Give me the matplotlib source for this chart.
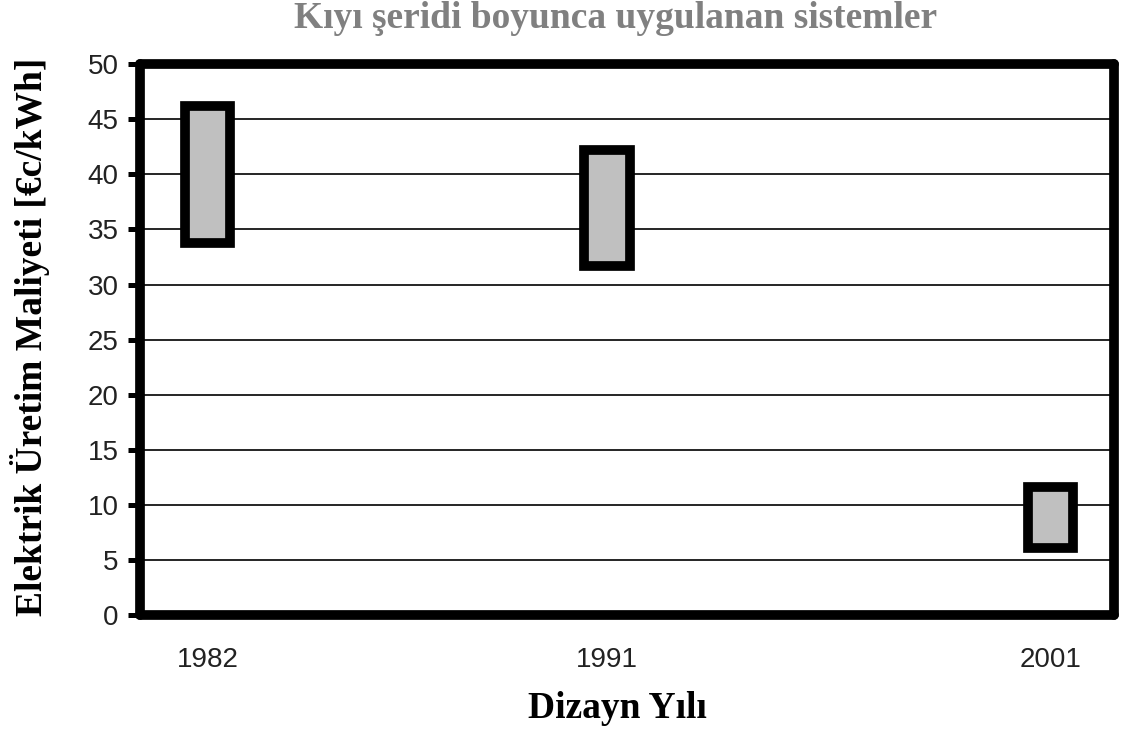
import matplotlib.pyplot as plt

# design year and cost range (€c/kWh) for each system
years = [1982, 1991, 2001]
cost_low = [33.8, 31.7, 6.1]
cost_high = [46.2, 42.2, 11.6]

title = 'Kıyı şeridi boyunca uygulanan sistemler'
xlabel = 'Dizayn Yılı'
ylabel = 'Elektrik Üretim Maliyeti [€c/kWh]'
yticks = list(range(0, 51, 5))

serif = ['Liberation Serif', 'DejaVu Serif']
sans = ['Liberation Sans', 'DejaVu Sans']

fig = plt.figure(figsize=(11.29, 7.36), dpi=100)
ax = fig.add_axes([0.124, 0.164, 0.8627, 0.749])

heights = [h - l for l, h in zip(cost_low, cost_high)]
ax.bar(years, heights, bottom=cost_low, width=1.02, color='#c0c0c0',
       edgecolor='black', linewidth=7, zorder=3)

ax.set_xlim(1980.47, 2002.43)
ax.set_ylim(0, 50)
ax.set_yticks(yticks)
ax.set_xticks(years)
ax.yaxis.grid(True, color='black', linewidth=1.2, zorder=0)
ax.set_axisbelow(True)

for s in ax.spines.values():
    s.set_linewidth(7)
    s.set_color('black')
    s.set_capstyle('round')

ax.tick_params(axis='y', length=8.5, width=3.6, pad=7, labelsize=20)
ax.tick_params(axis='x', length=0, pad=23, labelsize=20)
for lab in ax.get_xticklabels() + ax.get_yticklabels():
    lab.set_family(sans)
    lab.set_color('#222222')

# titles placed in figure coordinates
fig.text(0.545, 0.9755, title, ha='center', va='center', fontsize=27,
         fontweight='bold', color='#808080', family=serif)
fig.text(0.5465, 0.0367, xlabel, ha='center', va='center', fontsize=27,
         fontweight='bold', family=serif)
fig.text(0.0266, 0.542, ylabel, ha='center', va='center', rotation=90,
         fontsize=27, fontweight='bold', family=serif)

fig.savefig('out.png', dpi=100)
